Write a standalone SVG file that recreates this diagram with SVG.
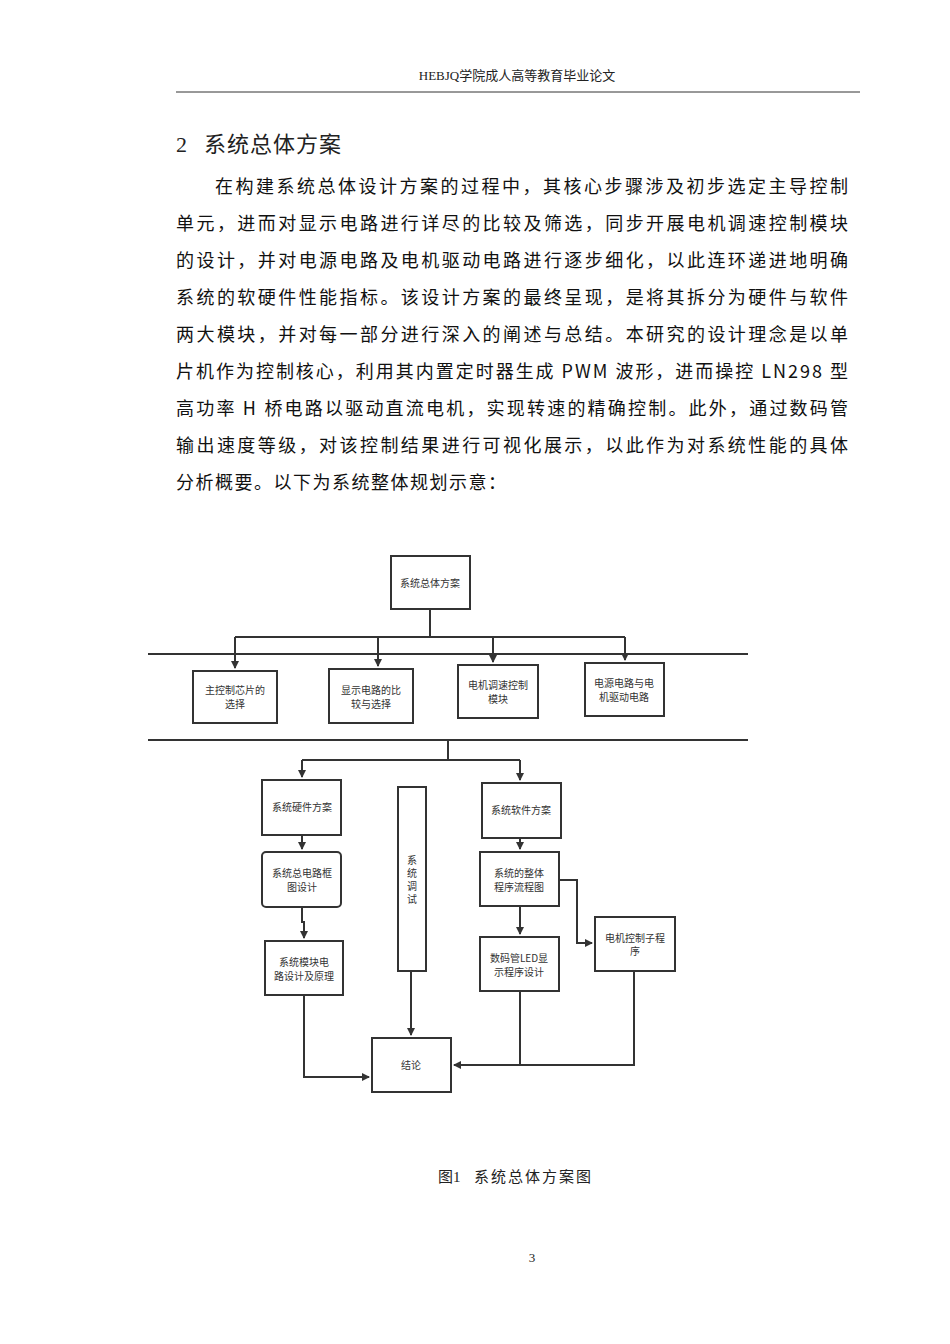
<svg xmlns="http://www.w3.org/2000/svg" width="950" height="1344" viewBox="0 0 950 1344">
<style>
.b{font-family:"Noto Sans CJK SC","Liberation Sans",sans-serif;font-size:18px;fill:#111}
.s{font-family:"Liberation Serif","Noto Sans CJK SC",serif;fill:#222}
.n rect{fill:#fff;stroke:#333;stroke-width:2}
.n text{font-family:"Noto Sans CJK SC",sans-serif;font-size:10px;fill:#333;text-anchor:middle}
.c path{fill:none;stroke:#333;stroke-width:2}
</style>
<defs><marker id="a" markerWidth="8" markerHeight="8" refX="7" refY="4" orient="auto" markerUnits="userSpaceOnUse"><path d="M0,0L8,4L0,8z" fill="#333"/></marker></defs>
<rect width="950" height="1344" fill="#fff"/>
<text class="s" x="517" y="80" font-size="13" text-anchor="middle">HEBJQ学院成人高等教育毕业论文</text>
<line x1="176" y1="92" x2="860" y2="92" stroke="#333" stroke-width="1"/>
<text x="176" y="152" font-size="22" class="s">2<tspan x="204" font-family="Noto Sans CJK SC,sans-serif" letter-spacing="1">系统总体方案</tspan></text>
<g class="b">
<text x="215" y="193" textLength="633" lengthAdjust="spacing">在构建系统总体设计方案的过程中，其核心步骤涉及初步选定主导控制</text>
<text x="176" y="230" textLength="672" lengthAdjust="spacing">单元，进而对显示电路进行详尽的比较及筛选，同步开展电机调速控制模块</text>
<text x="176" y="267" textLength="672" lengthAdjust="spacing">的设计，并对电源电路及电机驱动电路进行逐步细化，以此连环递进地明确</text>
<text x="176" y="304" textLength="672" lengthAdjust="spacing">系统的软硬件性能指标。该设计方案的最终呈现，是将其拆分为硬件与软件</text>
<text x="176" y="341" textLength="672" lengthAdjust="spacing">两大模块，并对每一部分进行深入的阐述与总结。本研究的设计理念是以单</text>
<text x="176" y="378" textLength="672" lengthAdjust="spacing">片机作为控制核心，利用其内置定时器生成 PWM 波形，进而操控 LN298 型</text>
<text x="176" y="415" textLength="672" lengthAdjust="spacing">高功率 H 桥电路以驱动直流电机，实现转速的精确控制。此外，通过数码管</text>
<text x="176" y="452" textLength="672" lengthAdjust="spacing">输出速度等级，对该控制结果进行可视化展示，以此作为对系统性能的具体</text>
<text x="176" y="489" letter-spacing="1.5">分析概要。以下为系统整体规划示意：</text>
</g>
<line x1="148" y1="654" x2="748" y2="654" stroke="#333" stroke-width="2"/>
<line x1="148" y1="740" x2="748" y2="740" stroke="#333" stroke-width="2"/>
<g class="c">
<path d="M430,609V637"/>
<path d="M235,637H625"/>
<path d="M235,637V668" marker-end="url(#a)"/>
<path d="M378,637V666" marker-end="url(#a)"/>
<path d="M493,637V662" marker-end="url(#a)"/>
<path d="M625,637V660" marker-end="url(#a)"/>
<path d="M448,740V760H302"/>
<path d="M448,760H520"/>
<path d="M302,760V777" marker-end="url(#a)"/>
<path d="M520,760V780" marker-end="url(#a)"/>
<path d="M302,835V849" marker-end="url(#a)"/>
<path d="M302,907V922H304V938" marker-end="url(#a)"/>
<path d="M520,838V849" marker-end="url(#a)"/>
<path d="M520,906V934" marker-end="url(#a)"/>
<path d="M559,880H577V943H592" marker-end="url(#a)"/>
<path d="M411,971V1035" marker-end="url(#a)"/>
<path d="M304,995V1077H369" marker-end="url(#a)"/>
<path d="M520,991V1065"/>
<path d="M634,971V1065H454" marker-end="url(#a)"/>
</g>
<g class="n" id="n0"><rect x="391" y="556" width="79" height="53"/><text x="430" y="587">系统总体方案</text></g>
<g class="n" id="n1"><rect x="193" y="671" width="84" height="52"/><text x="235" y="694">主控制芯片的</text><text x="235" y="708">选择</text></g>
<g class="n" id="n2"><rect x="329" y="669" width="84" height="54"/><text x="371" y="694">显示电路的比</text><text x="371" y="708">较与选择</text></g>
<g class="n" id="n3"><rect x="458" y="665" width="80" height="53"/><text x="498" y="689">电机调速控制</text><text x="498" y="703">模块</text></g>
<g class="n" id="n4"><rect x="585" y="663" width="79" height="53"/><text x="624" y="687">电源电路与电</text><text x="624" y="701">机驱动电路</text></g>
<g class="n" id="n5"><rect x="262" y="780" width="79" height="55"/><text x="302" y="811">系统硬件方案</text></g>
<g class="n" id="n6"><rect x="262" y="852" width="79" height="55" rx="4"/><text x="302" y="877">系统总电路框</text><text x="302" y="891">图设计</text></g>
<g class="n" id="n7"><rect x="265" y="941" width="78" height="54"/><text x="304" y="966">系统模块电</text><text x="304" y="980">路设计及原理</text></g>
<g class="n" id="n8"><rect x="398" y="787" width="28" height="184"/><text x="412" y="864">系</text><text x="412" y="877">统</text><text x="412" y="890">调</text><text x="412" y="903">试</text></g>
<g class="n" id="n9"><rect x="482" y="783" width="79" height="55"/><text x="521" y="814">系统软件方案</text></g>
<g class="n" id="n10"><rect x="480" y="852" width="79" height="54"/><text x="519" y="877">系统的整体</text><text x="519" y="891">程序流程图</text></g>
<g class="n" id="n11"><rect x="480" y="937" width="79" height="54"/><text x="519" y="962">数码管LED显</text><text x="519" y="976">示程序设计</text></g>
<g class="n" id="n12"><rect x="595" y="917" width="80" height="54"/><text x="635" y="942">电机控制子程</text><text x="635" y="955">序</text></g>
<g class="n" id="n13"><rect x="372" y="1038" width="79" height="54"/><text x="411" y="1069">结论</text></g>
<text class="s" x="438" y="1182" font-size="15">图1<tspan x="474" letter-spacing="2">系统总体方案图</tspan></text>
<text class="s" x="532" y="1262" font-size="13" text-anchor="middle">3</text>
</svg>
